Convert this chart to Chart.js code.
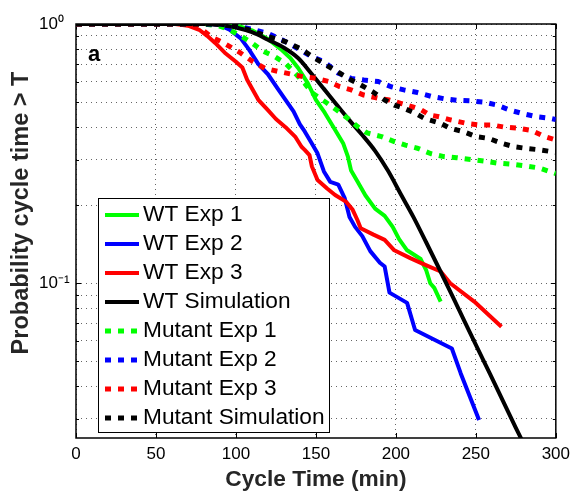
<!DOCTYPE html>
<html>
<head>
<meta charset="utf-8">
<script src="https://cdn.jsdelivr.net/npm/chart.js@4/dist/chart.umd.min.js"></script>
<style>
html,body{margin:0;padding:0;background:#ffffff;}
#wrap{position:relative;width:576px;height:495px;}
</style>
</head>
<body>
<div id="wrap"><canvas id="c" width="576" height="495"></canvas></div>
<script>
// ---------------- data ----------------
const seriesLabels = ['WT Exp 1','WT Exp 2','WT Exp 3','WT Simulation','Mutant Exp 1','Mutant Exp 2','Mutant Exp 3','Mutant Simulation'];

const wtExp1X = [0, 90, 96, 102, 110, 120, 128, 134, 139, 145, 150, 155.5, 161, 167, 170, 172, 176, 181, 187, 193, 198, 202, 207, 215.5, 219, 221.5, 224, 228];
const wtExp1Y = [1, 1, 0.995, 0.98, 0.945, 0.875, 0.8, 0.74, 0.675, 0.59, 0.51, 0.455, 0.4, 0.347, 0.308, 0.272, 0.247, 0.218, 0.194, 0.182, 0.165, 0.148, 0.134, 0.124, 0.112, 0.1, 0.096, 0.085];

const wtExp2X = [0, 85, 90, 96, 103, 108, 114, 120, 126, 131, 136, 140, 143, 147, 151, 155, 159, 164, 168, 171, 174.5, 179, 184, 190, 193, 196, 207, 212, 235, 240.5, 252];
const wtExp2Y = [1, 1, 0.99, 0.95, 0.88, 0.8, 0.7, 0.64, 0.565, 0.51, 0.46, 0.41, 0.385, 0.35, 0.317, 0.27, 0.246, 0.24, 0.213, 0.18, 0.165, 0.152, 0.133, 0.12, 0.116, 0.092, 0.084, 0.066, 0.056, 0.045, 0.0297];

const wtExp3X = [0, 62, 70, 77, 82, 87, 93, 100, 104, 107, 114, 120, 125, 131, 137, 141, 143, 146, 147.5, 151, 157, 162, 169, 173, 176, 178, 186, 193, 199, 209, 218, 228, 234, 249, 266];
const wtExp3Y = [1, 1, 0.985, 0.95, 0.9, 0.845, 0.775, 0.715, 0.68, 0.61, 0.51, 0.465, 0.43, 0.4, 0.368, 0.336, 0.327, 0.312, 0.282, 0.25, 0.232, 0.219, 0.206, 0.192, 0.175, 0.163, 0.154, 0.147, 0.134, 0.125, 0.118, 0.111, 0.1, 0.085, 0.068];

const wtSimX = [0, 80, 90, 100, 110, 120, 130, 139, 147, 155, 163, 171, 179, 187, 195, 203, 211, 219, 227, 235, 243, 251, 259, 267, 275, 280];
const wtSimY = [1, 1, 0.99, 0.97, 0.93, 0.87, 0.81, 0.738, 0.646, 0.562, 0.488, 0.425, 0.373, 0.324, 0.272, 0.221, 0.18, 0.1436, 0.114, 0.0902, 0.0711, 0.0562, 0.0445, 0.0351, 0.0277, 0.024];

const mutExp1X = [0, 80, 90, 96, 103, 110, 117, 124, 131, 137, 143, 148, 156, 163, 170, 176, 182, 191, 199, 206, 214, 222, 230, 238, 247, 255, 263, 272, 282, 290, 300];
const mutExp1Y = [1, 1, 0.98, 0.95, 0.9, 0.845, 0.785, 0.75, 0.705, 0.646, 0.59, 0.54, 0.5, 0.466, 0.432, 0.402, 0.38, 0.368, 0.352, 0.341, 0.331, 0.316, 0.308, 0.305, 0.3, 0.296, 0.291, 0.288, 0.283, 0.278, 0.265];

const mutExp2X = [0, 90, 100, 110, 120, 129, 137, 147, 155, 164, 172, 180, 189, 197, 205, 213.5, 222, 230, 238, 247, 255, 263, 271.5, 280, 288, 297, 300];
const mutExp2Y = [1, 1, 0.985, 0.955, 0.92, 0.868, 0.815, 0.75, 0.716, 0.646, 0.617, 0.608, 0.6, 0.573, 0.557, 0.544, 0.526, 0.515, 0.508, 0.505, 0.5, 0.487, 0.465, 0.45, 0.439, 0.432, 0.428];

const mutExp3X = [0, 70, 77, 85, 93, 102, 110, 118, 127, 135, 142, 150, 158, 165, 172, 180, 189, 196, 203, 210, 216, 221, 227, 234, 244, 252, 260, 268, 277, 285, 292, 300];
const mutExp3Y = [1, 1, 0.97, 0.89, 0.84, 0.78, 0.72, 0.675, 0.655, 0.64, 0.626, 0.617, 0.6, 0.573, 0.557, 0.532, 0.517, 0.509, 0.494, 0.48, 0.466, 0.446, 0.439, 0.427, 0.414, 0.408, 0.408, 0.4, 0.396, 0.388, 0.37, 0.357];

const mutSimX = [0, 90, 100, 108, 120, 131, 140, 149, 158, 165, 172, 178, 185.5, 193, 199, 205, 212, 218, 228, 234, 242.5, 250, 258, 266, 274, 282, 290, 300];
const mutSimY = [1, 1, 0.98, 0.95, 0.895, 0.855, 0.806, 0.74, 0.685, 0.646, 0.608, 0.582, 0.548, 0.509, 0.487, 0.473, 0.453, 0.432, 0.414, 0.396, 0.384, 0.368, 0.362, 0.347, 0.336, 0.331, 0.327, 0.32];

const yTickValues = [0.03, 0.04, 0.05, 0.06, 0.07, 0.08, 0.09, 0.1, 0.2, 0.3, 0.4, 0.5, 0.6, 0.7, 0.8, 0.9, 1];
const yMajorValues = [1, 0.1];
const yMajorLabels = ['10\u2070', '10\u207B\u00B9'];
const xTickStep = 50;

// ---------------- styles ----------------
const FONT = '"Liberation Sans", Arial, Helvetica, sans-serif';
const seriesColors = ['#00ff00', '#0000ff', '#ff0000', '#000000', '#00ff00', '#0000ff', '#ff0000', '#000000'];
const seriesDotted = [false, false, false, false, true, true, true, true];
const seriesSmooth = [false, false, false, true, false, false, false, false];
const seriesX = [wtExp1X, wtExp2X, wtExp3X, wtSimX, mutExp1X, mutExp2X, mutExp3X, mutSimX];
const seriesY = [wtExp1Y, wtExp2Y, wtExp3Y, wtSimY, mutExp1Y, mutExp2Y, mutExp3Y, mutSimY];

const datasets = seriesLabels.map((label, i) => ({
  label,
  data: seriesX[i].map((x, k) => ({ x, y: seriesY[i][k] })),
  borderColor: seriesColors[i],
  backgroundColor: seriesColors[i],
  borderWidth: seriesDotted[i] ? 5 : 4,
  borderDash: seriesDotted[i] ? [6, 7] : [],
  borderCapStyle: 'butt',
  borderJoinStyle: 'round',
  pointRadius: 0,
  pointHoverRadius: 0,
  fill: false,
  tension: seriesSmooth[i] ? 0.4 : 0,
  cubicInterpolationMode: seriesSmooth[i] ? 'monotone' : 'default',
  order: seriesLabels.length - i
}));

const matlabPlugin = {
  id: 'matlabDecor',
  beforeDatasetsDraw(chart) {
    const { ctx, chartArea: a, scales } = chart;
    ctx.save();
    ctx.strokeStyle = '#000';
    ctx.lineWidth = 1;
    scales.x.ticks.forEach(t => {
      const px = Math.round(scales.x.getPixelForValue(t.value)) + 0.5;
      ctx.beginPath();
      ctx.moveTo(px, a.bottom); ctx.lineTo(px, a.bottom - 5);
      ctx.moveTo(px, a.top); ctx.lineTo(px, a.top + 5);
      ctx.stroke();
    });
    yTickValues.forEach(v => {
      const py = Math.round(scales.y.getPixelForValue(v)) + 0.5;
      const len = yMajorValues.includes(v) ? 5 : 3;
      ctx.beginPath();
      ctx.moveTo(a.left, py); ctx.lineTo(a.left + len, py);
      ctx.moveTo(a.right, py); ctx.lineTo(a.right - len, py);
      ctx.stroke();
    });
    ctx.lineWidth = 1.5;
    ctx.strokeRect(a.left, a.top, a.right - a.left, a.bottom - a.top);
    ctx.restore();
  },
  afterDraw(chart) {
    const { ctx } = chart;
    ctx.save();
    ctx.fillStyle = '#000';
    ctx.font = 'bold 22px ' + FONT;
    ctx.textAlign = 'left';
    ctx.textBaseline = 'alphabetic';
    ctx.fillText('a', 88, 61);
    ctx.save();
    ctx.translate(22, 213);
    ctx.rotate(-Math.PI / 2);
    ctx.font = 'bold 23.5px ' + FONT;
    ctx.fillStyle = '#262626';
    ctx.textAlign = 'center';
    ctx.textBaseline = 'middle';
    ctx.fillText('Probability cycle time > T', 0, 0);
    ctx.restore();
    const L = 98.5, T = 198.5, W = 231, H = 234;
    ctx.fillStyle = '#fff';
    ctx.fillRect(L, T, W, H);
    ctx.strokeStyle = '#000';
    ctx.lineWidth = 1;
    ctx.strokeRect(L, T, W, H);
    chart.data.datasets.forEach((ds, i) => {
      const cy = 215 + 29 * i;
      ctx.beginPath();
      ctx.strokeStyle = ds.borderColor;
      ctx.lineWidth = ds.borderWidth;
      ctx.lineCap = 'butt';
      ctx.setLineDash(ds.borderDash || []);
      ctx.moveTo(105, cy);
      ctx.lineTo(139, cy);
      ctx.stroke();
      ctx.setLineDash([]);
      ctx.fillStyle = '#000';
      ctx.font = '22.7px ' + FONT;
      ctx.textAlign = 'left';
      ctx.textBaseline = 'middle';
      ctx.fillText(ds.label, 143, cy);
    });
    ctx.restore();
  }
};

new Chart(document.getElementById('c'), {
  type: 'line',
  data: { datasets },
  options: {
    responsive: false,
    animation: false,
    devicePixelRatio: 1,
    layout: { padding: { left: 39, top: 24, right: 17, bottom: 0 } },
    plugins: { legend: { display: false }, tooltip: { enabled: false } },
    scales: {
      x: {
        type: 'linear',
        min: 0, max: 300,
        ticks: { stepSize: xTickStep, font: { family: FONT, size: 17 }, color: '#000', padding: 6, maxRotation: 0 },
        grid: { color: 'rgba(0,0,0,0.6)', lineWidth: 1, drawTicks: false },
        border: { display: false, dash: [1, 4] },
        title: { display: true, text: 'Cycle Time (min)', color: '#262626', font: { family: FONT, size: 22.7, weight: 'bold' }, padding: { top: 0, bottom: 1.4 } },
        afterFit: (s) => { s.height = 57; }
      },
      y: {
        type: 'logarithmic',
        min: 0.0253, max: 1,
        afterBuildTicks: (s) => { s.ticks = yTickValues.map(v => ({ value: v })); },
        ticks: {
          autoSkip: false,
          font: { family: FONT, size: 17 },
          color: '#000',
          padding: 0,
          crossAlign: 'far',
          callback: (v) => {
            const k = yMajorValues.findIndex(m => Math.abs(m - v) < 1e-9);
            return k >= 0 ? yMajorLabels[k] : '';
          }
        },
        grid: { color: 'rgba(0,0,0,0.6)', lineWidth: 1, drawTicks: false },
        border: { display: false, dash: [1, 4] },
        afterFit: (s) => { s.width = 37; }
      }
    }
  },
  plugins: [matlabPlugin]
});
</script>
</body>
</html>
